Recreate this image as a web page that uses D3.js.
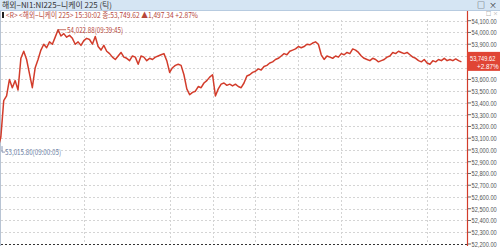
<!DOCTYPE html>
<html>
<head>
<meta charset="utf-8">
<script src="https://cdn.jsdelivr.net/npm/d3@7"></script>
<style>
  body { margin:0; background:#fff; }
  svg { display:block; }
</style>
</head>
<body>
<div id="chart"></div>
<script>
// nikkei 225 tick chart, prices sampled every 2 trading minutes (lunch 11:30-12:30 skipped)
var prices = [53016,53110,53420,53460,53600,53530,53590,53510,53780,53840,
  53770,53650,53530,53700,53770,53850,53900,53870,53920,53900,
  53960,54023,53970,53990,53960,53975,53950,53900,53920,53890,
  53930,53950,53940,53900,53965,53880,53850,53890,53840,53820,
  53790,53770,53800,53830,53790,53780,53760,53800,53790,53730,
  53800,53790,53760,53780,53770,53790,53800,53810,53820,53760,
  53660,53700,53720,53730,53720,53640,53520,53470,53490,53500,
  53540,53530,53570,53590,53620,53640,53460,53520,53560,53570,
  53550,53560,53545,53560,53540,53530,53570,53630,53640,53660,
  53670,53690,53680,53710,53720,53740,53750,53770,53780,53800,
  53820,53810,53840,53850,53860,53880,53870,53880,53900,53895,
  53910,53920,53900,53810,53770,53800,53790,53780,53800,53790,
  53820,53810,53830,53820,53860,53850,53830,53800,53780,53770,
  53760,53780,53770,53750,53760,53770,53790,53800,53830,53820,
  53840,53830,53820,53830,53810,53790,53780,53760,53750,53770,
  53740,53730,53760,53750,53770,53760,53780,53760,53770,53760,
  53775,53760,53750];
var stepMin = 2;
var yTicks = [54100,54000,53900,53800,53700,53600,53500,53400,53300,53200,
  53100,53000,52900,52800,52700,52600,52500,52400,52300,52200];
var gridTimes = [60,120,150,180,210,240,300];   // trading minutes from 09:00
var titleText = "해외−NI1:NI225−니케이 225 (틱)";
var infoText = "<R> <해외−니케이 225> 15:30:02 종:53,749.62 ▲1,497.34 +2.87%";
var highLabel = "54,022.88(09:39:45)";
var lowLabel = "53,015.80(09:00:05)";
var lastPrice = 53749.62;
var lastPct = "+2.87%";

var W = 500, H = 249;
var fmt = d3.format(",.2f");

var svg = d3.select("#chart").append("svg")
    .attr("width", W)
    .attr("height", H)
    .style("font-family", "'Noto Sans CJK KR', 'Liberation Sans', sans-serif");

var x = d3.scaleLinear().domain([0, 330]).range([-2, 470]);
var y = d3.scaleLinear().domain([52200, 54100]).range([244, 20.7]);

// title bar
svg.append("rect").attr("x", 0).attr("y", 0).attr("width", W).attr("height", 10)
    .style("fill", "#d5e5f3");
svg.append("line").attr("x1", 0).attr("x2", W).attr("y1", 10.5).attr("y2", 10.5)
    .style("stroke", "#b7cbe0");
svg.append("text").attr("x", 2).attr("y", 8)
    .attr("textLength", 110).attr("lengthAdjust", "spacingAndGlyphs")
    .style("font-size", "8px").style("fill", "#333")
    .text(titleText);
svg.append("text").attr("x", 477).attr("y", 8).style("font-size", "8px").style("fill", "#333").text("□");
svg.append("text").attr("x", 489).attr("y", 8).style("font-size", "8px").style("fill", "#333").text("×");

// left border
svg.append("line").attr("x1", 0.5).attr("x2", 0.5).attr("y1", 11).attr("y2", 246)
    .style("stroke", "#b8c4d4");

// grid
svg.append("g").selectAll("line").data(yTicks).enter().append("line")
    .attr("x1", 1).attr("x2", 467)
    .attr("y1", function(d) { return Math.round(y(d)) + 0.5; })
    .attr("y2", function(d) { return Math.round(y(d)) + 0.5; })
    .style("stroke", function(d, i) { return i == yTicks.length - 1 ? "#333" : "#d4d4d4"; })
    .style("stroke-dasharray", "2,2");

svg.append("g").selectAll("line").data(gridTimes).enter().append("line")
    .attr("x1", function(d) { return Math.round(x(d)) + 0.5; })
    .attr("x2", function(d) { return Math.round(x(d)) + 0.5; })
    .attr("y1", 20).attr("y2", 244)
    .style("stroke", "#d4d4d4")
    .style("stroke-dasharray", "2,2");

// info line
svg.append("rect").attr("x", 2).attr("y", 12).attr("width", 2).attr("height", 6).style("fill", "#222");
svg.append("text").attr("x", 6).attr("y", 18)
    .attr("textLength", 192).attr("lengthAdjust", "spacingAndGlyphs")
    .style("font-size", "8px").style("fill", "#b6473b")
    .text(infoText);

// price line
var line = d3.line()
    .x(function(d, i) { return x(i * stepMin); })
    .y(function(d) { return y(d); });

svg.append("path").datum(prices)
    .attr("d", line)
    .style("fill", "none")
    .style("stroke", "#d23c2b")
    .style("stroke-width", 1.5)
    .style("stroke-linejoin", "round");

// high / low markers
var hiIdx = d3.maxIndex(prices), loIdx = d3.minIndex(prices);
var hx = x(hiIdx * stepMin), hy = y(prices[hiIdx]);
svg.append("path")
    .attr("d", "M" + hx + "," + (hy + 3) + "V" + hy + "H" + (hx + 8))
    .style("fill", "none").style("stroke", "#b6473b").style("stroke-width", 0.8);
svg.append("text").attr("x", hx + 9).attr("y", hy + 3)
    .attr("textLength", 56).attr("lengthAdjust", "spacingAndGlyphs")
    .style("font-size", "8px").style("fill", "#b6473b")
    .text(highLabel);

var lx = 1, ly = y(prices[loIdx]);
svg.append("path")
    .attr("d", "M" + (lx + 1) + "," + (ly - 2) + "V" + (ly + 4) + "H" + (lx + 4))
    .style("fill", "none").style("stroke", "#6d7fa6").style("stroke-width", 0.8);
svg.append("text").attr("x", lx + 4).attr("y", ly + 7)
    .attr("textLength", 56).attr("lengthAdjust", "spacingAndGlyphs")
    .style("font-size", "8px").style("fill", "#6d7fa6")
    .text(lowLabel);

// right axis
svg.append("line").attr("x1", 467.5).attr("x2", 467.5).attr("y1", 11).attr("y2", 246)
    .style("stroke", "#d23c2b").style("stroke-width", 1.2);

// last price tag hides the labels behind it
var ty = y(lastPrice);
var shown = yTicks.filter(function(d) { return Math.abs(y(d) - ty) > 13; });

var ax = svg.append("g").selectAll("g").data(yTicks).enter().append("g")
    .attr("transform", function(d) { return "translate(468," + y(d) + ")"; });
ax.append("line").attr("x1", 0).attr("x2", 3).attr("y1", 0).attr("y2", 0)
    .style("stroke", "#666");
ax.filter(function(d) { return shown.indexOf(d) >= 0; }).append("text")
    .attr("transform", "translate(3.5,3) scale(0.71,1)")
    .style("font-size", "8px").style("fill", "#555")
    .style("font-family", "'Liberation Sans', sans-serif")
    .text(function(d) { return fmt(d); });

// small icons at top of axis
svg.append("text").attr("x", 486).attr("y", 14.5).style("font-size", "5px").style("fill", "#555").text("□");
svg.append("text").attr("x", 493).attr("y", 14.5).style("font-size", "5px").style("fill", "#999").text("×");

svg.append("rect").attr("x", 467).attr("y", ty - 10).attr("width", 33).attr("height", 19)
    .style("fill", "#e04535");
svg.append("text").attr("transform", "translate(470," + (ty - 1) + ") scale(0.76,1)")
    .style("font-size", "7.5px").style("fill", "#fff")
    .style("font-family", "'Liberation Sans', sans-serif")
    .text(fmt(lastPrice));
svg.append("text").attr("transform", "translate(477," + (ty + 7) + ") scale(0.85,1)")
    .style("font-size", "7.5px").style("fill", "#fff")
    .style("font-family", "'Liberation Sans', sans-serif")
    .text(lastPct);
</script>
</body>
</html>
